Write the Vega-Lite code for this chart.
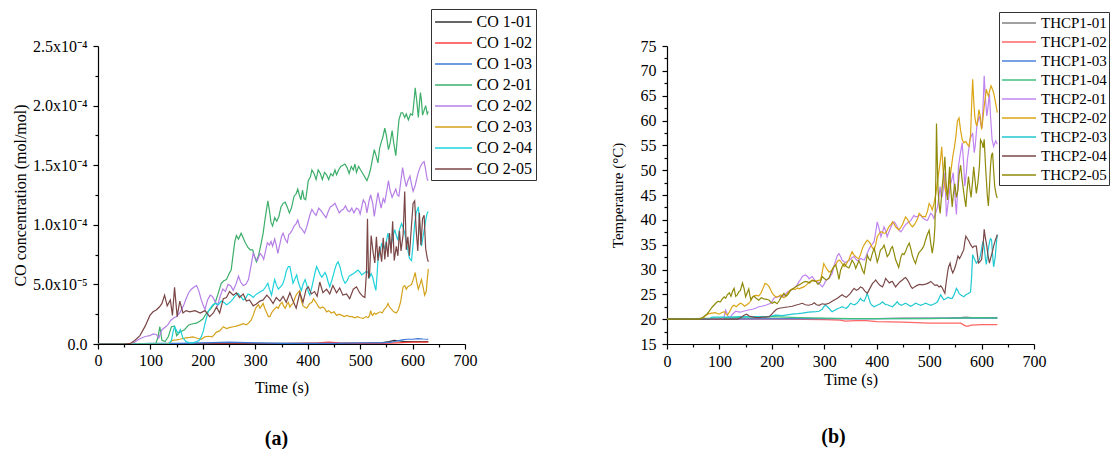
{
"$schema":"https://vega.github.io/schema/vega-lite/v6.json",
"background":"white",
"padding":{"left":12,"top":8,"right":0,"bottom":0},
"config":{"view":{"stroke":null},
"axis":{"domainColor":"black","domainWidth":1.2,"tickColor":"black","tickWidth":1.2,"labelFont":"Liberation Serif","labelFontSize":16,"labelColor":"black","titleFont":"Liberation Serif","titleFontSize":16,"titleFontWeight":"normal","titleColor":"black","grid":false,"labelPadding":4,"labelOverlap":false,"labelFlush":false},
"legend":{"labelFont":"Liberation Serif","labelColor":"black","strokeColor":"#333","fillColor":"white","padding":3,"symbolStrokeWidth":1.5,"symbolOpacity":1}},
"resolve":{"scale":{"color":"independent"},"legend":{"color":"independent"}},
"datasets":{
"co":[
{"s":"CO 1-01","t":0,"v":0},{"s":"CO 1-01","t":100,"v":0},{"s":"CO 1-01","t":200,"v":0.05e-5},{"s":"CO 1-01","t":300,"v":0.05e-5},{"s":"CO 1-01","t":400,"v":0.05e-5},{"s":"CO 1-01","t":500,"v":0.05e-5},{"s":"CO 1-01","t":540,"v":0.1e-5},{"s":"CO 1-01","t":555,"v":0.2e-5},{"s":"CO 1-01","t":565,"v":0.3e-5},{"s":"CO 1-01","t":575,"v":0.25e-5},{"s":"CO 1-01","t":585,"v":0.2e-5},{"s":"CO 1-01","t":600,"v":0.2e-5},{"s":"CO 1-01","t":615,"v":0.2e-5},{"s":"CO 1-01","t":630,"v":0.2e-5},
{"s":"CO 1-02","t":0,"v":0},{"s":"CO 1-02","t":300,"v":0},{"s":"CO 1-02","t":380,"v":0.05e-5},{"s":"CO 1-02","t":420,"v":0.1e-5},{"s":"CO 1-02","t":440,"v":0.15e-5},{"s":"CO 1-02","t":460,"v":0.1e-5},{"s":"CO 1-02","t":500,"v":0.05e-5},{"s":"CO 1-02","t":540,"v":0.05e-5},{"s":"CO 1-02","t":570,"v":0.1e-5},{"s":"CO 1-02","t":600,"v":0.15e-5},{"s":"CO 1-02","t":630,"v":0.15e-5},
{"s":"CO 1-03","t":0,"v":0},{"s":"CO 1-03","t":60,"v":0},{"s":"CO 1-03","t":100,"v":0.05e-5},{"s":"CO 1-03","t":150,"v":0.05e-5},{"s":"CO 1-03","t":200,"v":0.1e-5},{"s":"CO 1-03","t":250,"v":0.15e-5},{"s":"CO 1-03","t":300,"v":0.1e-5},{"s":"CO 1-03","t":350,"v":0.05e-5},{"s":"CO 1-03","t":400,"v":0.05e-5},{"s":"CO 1-03","t":450,"v":0.05e-5},{"s":"CO 1-03","t":500,"v":0.1e-5},{"s":"CO 1-03","t":540,"v":0.1e-5},{"s":"CO 1-03","t":560,"v":0.15e-5},{"s":"CO 1-03","t":570,"v":0.25e-5},{"s":"CO 1-03","t":580,"v":0.35e-5},{"s":"CO 1-03","t":590,"v":0.4e-5},{"s":"CO 1-03","t":600,"v":0.4e-5},{"s":"CO 1-03","t":610,"v":0.45e-5},{"s":"CO 1-03","t":620,"v":0.42e-5},{"s":"CO 1-03","t":630,"v":0.4e-5},
{"s":"CO 2-01","t":0,"v":0},{"s":"CO 2-01","t":110,"v":0},{"s":"CO 2-01","t":114,"v":0.5e-5},{"s":"CO 2-01","t":118,"v":1.45e-5},{"s":"CO 2-01","t":122,"v":0.3e-5},{"s":"CO 2-01","t":128,"v":0.2e-5},{"s":"CO 2-01","t":134,"v":0.6e-5},{"s":"CO 2-01","t":140,"v":1.45e-5},{"s":"CO 2-01","t":146,"v":1.5e-5},{"s":"CO 2-01","t":150,"v":0.7e-5},{"s":"CO 2-01","t":156,"v":1.0e-5},{"s":"CO 2-01","t":165,"v":1.2e-5},{"s":"CO 2-01","t":173,"v":1.6e-5},{"s":"CO 2-01","t":181,"v":1.7e-5},{"s":"CO 2-01","t":188,"v":1.75e-5},{"s":"CO 2-01","t":194,"v":1.9e-5},{"s":"CO 2-01","t":200,"v":2.1e-5},{"s":"CO 2-01","t":207,"v":2.6e-5},{"s":"CO 2-01","t":214,"v":2.9e-5},{"s":"CO 2-01","t":219,"v":3.2e-5},{"s":"CO 2-01","t":223,"v":3.4e-5},{"s":"CO 2-01","t":229,"v":4.2e-5},{"s":"CO 2-01","t":235,"v":5.1e-5},{"s":"CO 2-01","t":240,"v":5.3e-5},{"s":"CO 2-01","t":245,"v":5.4e-5},{"s":"CO 2-01","t":250,"v":5.9e-5},{"s":"CO 2-01","t":254,"v":6.2e-5},{"s":"CO 2-01","t":258,"v":7.6e-5},{"s":"CO 2-01","t":261,"v":8.6e-5},{"s":"CO 2-01","t":264,"v":9.1e-5},{"s":"CO 2-01","t":268,"v":8.8e-5},{"s":"CO 2-01","t":273,"v":9.3e-5},{"s":"CO 2-01","t":277,"v":8.9e-5},{"s":"CO 2-01","t":281,"v":8.5e-5},{"s":"CO 2-01","t":286,"v":8.1e-5},{"s":"CO 2-01","t":290,"v":7.9e-5},{"s":"CO 2-01","t":295,"v":7.9e-5},{"s":"CO 2-01","t":299,"v":7.3e-5},{"s":"CO 2-01","t":302,"v":6.9e-5},{"s":"CO 2-01","t":306,"v":7.4e-5},{"s":"CO 2-01","t":311,"v":8.4e-5},{"s":"CO 2-01","t":315,"v":9.3e-5},{"s":"CO 2-01","t":319,"v":10.6e-5},{"s":"CO 2-01","t":324,"v":12.0e-5},{"s":"CO 2-01","t":327,"v":11.2e-5},{"s":"CO 2-01","t":330,"v":10.2e-5},{"s":"CO 2-01","t":333,"v":9.9e-5},{"s":"CO 2-01","t":337,"v":10.6e-5},{"s":"CO 2-01","t":341,"v":10.3e-5},{"s":"CO 2-01","t":345,"v":10.7e-5},{"s":"CO 2-01","t":349,"v":11.5e-5},{"s":"CO 2-01","t":353,"v":11.8e-5},{"s":"CO 2-01","t":357,"v":11.9e-5},{"s":"CO 2-01","t":361,"v":11.5e-5},{"s":"CO 2-01","t":365,"v":11.0e-5},{"s":"CO 2-01","t":369,"v":11.4e-5},{"s":"CO 2-01","t":374,"v":12.4e-5},{"s":"CO 2-01","t":378,"v":12.6e-5},{"s":"CO 2-01","t":381,"v":13.0e-5},{"s":"CO 2-01","t":384,"v":12.5e-5},{"s":"CO 2-01","t":387,"v":12.1e-5},{"s":"CO 2-01","t":390,"v":12.9e-5},{"s":"CO 2-01","t":393,"v":12.2e-5},{"s":"CO 2-01","t":396,"v":12.1e-5},{"s":"CO 2-01","t":399,"v":13.0e-5},{"s":"CO 2-01","t":401,"v":13.7e-5},{"s":"CO 2-01","t":405,"v":14.0e-5},{"s":"CO 2-01","t":408,"v":14.6e-5},{"s":"CO 2-01","t":412,"v":14.3e-5},{"s":"CO 2-01","t":416,"v":13.8e-5},{"s":"CO 2-01","t":420,"v":14.6e-5},{"s":"CO 2-01","t":424,"v":14.3e-5},{"s":"CO 2-01","t":428,"v":13.8e-5},{"s":"CO 2-01","t":432,"v":14.4e-5},{"s":"CO 2-01","t":436,"v":14.2e-5},{"s":"CO 2-01","t":440,"v":13.8e-5},{"s":"CO 2-01","t":444,"v":14.3e-5},{"s":"CO 2-01","t":448,"v":14.1e-5},{"s":"CO 2-01","t":452,"v":14.6e-5},{"s":"CO 2-01","t":455,"v":14.2e-5},{"s":"CO 2-01","t":459,"v":14.6e-5},{"s":"CO 2-01","t":463,"v":14.9e-5},{"s":"CO 2-01","t":467,"v":15.0e-5},{"s":"CO 2-01","t":471,"v":15.1e-5},{"s":"CO 2-01","t":475,"v":14.8e-5},{"s":"CO 2-01","t":479,"v":14.3e-5},{"s":"CO 2-01","t":483,"v":14.9e-5},{"s":"CO 2-01","t":487,"v":14.6e-5},{"s":"CO 2-01","t":490,"v":15.1e-5},{"s":"CO 2-01","t":493,"v":14.4e-5},{"s":"CO 2-01","t":497,"v":14.9e-5},{"s":"CO 2-01","t":501,"v":14.6e-5},{"s":"CO 2-01","t":505,"v":14.3e-5},{"s":"CO 2-01","t":509,"v":14.0e-5},{"s":"CO 2-01","t":513,"v":13.7e-5},{"s":"CO 2-01","t":517,"v":14.2e-5},{"s":"CO 2-01","t":520,"v":14.7e-5},{"s":"CO 2-01","t":523,"v":15.4e-5},{"s":"CO 2-01","t":527,"v":16.3e-5},{"s":"CO 2-01","t":531,"v":15.7e-5},{"s":"CO 2-01","t":534,"v":15.2e-5},{"s":"CO 2-01","t":537,"v":16.4e-5},{"s":"CO 2-01","t":540,"v":16.9e-5},{"s":"CO 2-01","t":543,"v":17.3e-5},{"s":"CO 2-01","t":547,"v":18.1e-5},{"s":"CO 2-01","t":550,"v":17.5e-5},{"s":"CO 2-01","t":554,"v":16.3e-5},{"s":"CO 2-01","t":557,"v":16.8e-5},{"s":"CO 2-01","t":561,"v":17.9e-5},{"s":"CO 2-01","t":564,"v":16.9e-5},{"s":"CO 2-01","t":568,"v":15.8e-5},{"s":"CO 2-01","t":571,"v":17.3e-5},{"s":"CO 2-01","t":574,"v":18.8e-5},{"s":"CO 2-01","t":578,"v":19.4e-5},{"s":"CO 2-01","t":581,"v":19.4e-5},{"s":"CO 2-01","t":585,"v":19.0e-5},{"s":"CO 2-01","t":588,"v":19.3e-5},{"s":"CO 2-01","t":592,"v":18.8e-5},{"s":"CO 2-01","t":596,"v":19.3e-5},{"s":"CO 2-01","t":600,"v":19.2e-5},{"s":"CO 2-01","t":603,"v":20.5e-5},{"s":"CO 2-01","t":605,"v":21.5e-5},{"s":"CO 2-01","t":608,"v":20.4e-5},{"s":"CO 2-01","t":611,"v":19.0e-5},{"s":"CO 2-01","t":613,"v":20.1e-5},{"s":"CO 2-01","t":615,"v":21.1e-5},{"s":"CO 2-01","t":617,"v":20.4e-5},{"s":"CO 2-01","t":619,"v":19.2e-5},{"s":"CO 2-01","t":622,"v":19.6e-5},{"s":"CO 2-01","t":625,"v":20.0e-5},{"s":"CO 2-01","t":628,"v":19.3e-5},{"s":"CO 2-01","t":630,"v":19.5e-5},
{"s":"CO 2-02","t":0,"v":0},{"s":"CO 2-02","t":62,"v":0},{"s":"CO 2-02","t":70,"v":0.15e-5},{"s":"CO 2-02","t":78,"v":0.4e-5},{"s":"CO 2-02","t":85,"v":0.55e-5},{"s":"CO 2-02","t":92,"v":0.65e-5},{"s":"CO 2-02","t":99,"v":0.7e-5},{"s":"CO 2-02","t":105,"v":0.85e-5},{"s":"CO 2-02","t":111,"v":0.8e-5},{"s":"CO 2-02","t":116,"v":0.5e-5},{"s":"CO 2-02","t":122,"v":1.2e-5},{"s":"CO 2-02","t":128,"v":1.4e-5},{"s":"CO 2-02","t":133,"v":1.6e-5},{"s":"CO 2-02","t":139,"v":2.0e-5},{"s":"CO 2-02","t":145,"v":2.2e-5},{"s":"CO 2-02","t":150,"v":2.3e-5},{"s":"CO 2-02","t":156,"v":2.6e-5},{"s":"CO 2-02","t":163,"v":3.2e-5},{"s":"CO 2-02","t":168,"v":3.8e-5},{"s":"CO 2-02","t":173,"v":4.3e-5},{"s":"CO 2-02","t":178,"v":4.6e-5},{"s":"CO 2-02","t":184,"v":4.8e-5},{"s":"CO 2-02","t":188,"v":4.9e-5},{"s":"CO 2-02","t":192,"v":4.5e-5},{"s":"CO 2-02","t":197,"v":3.7e-5},{"s":"CO 2-02","t":201,"v":3.2e-5},{"s":"CO 2-02","t":204,"v":2.9e-5},{"s":"CO 2-02","t":209,"v":3.7e-5},{"s":"CO 2-02","t":214,"v":4.1e-5},{"s":"CO 2-02","t":218,"v":4.0e-5},{"s":"CO 2-02","t":223,"v":3.6e-5},{"s":"CO 2-02","t":228,"v":3.2e-5},{"s":"CO 2-02","t":233,"v":4.0e-5},{"s":"CO 2-02","t":238,"v":4.6e-5},{"s":"CO 2-02","t":243,"v":4.4e-5},{"s":"CO 2-02","t":248,"v":5.0e-5},{"s":"CO 2-02","t":253,"v":4.9e-5},{"s":"CO 2-02","t":258,"v":4.5e-5},{"s":"CO 2-02","t":263,"v":5.0e-5},{"s":"CO 2-02","t":268,"v":5.7e-5},{"s":"CO 2-02","t":272,"v":5.2e-5},{"s":"CO 2-02","t":277,"v":4.9e-5},{"s":"CO 2-02","t":282,"v":5.0e-5},{"s":"CO 2-02","t":287,"v":5.4e-5},{"s":"CO 2-02","t":292,"v":6.6e-5},{"s":"CO 2-02","t":296,"v":7.6e-5},{"s":"CO 2-02","t":300,"v":7.2e-5},{"s":"CO 2-02","t":304,"v":7.0e-5},{"s":"CO 2-02","t":309,"v":7.6e-5},{"s":"CO 2-02","t":313,"v":7.4e-5},{"s":"CO 2-02","t":316,"v":7.1e-5},{"s":"CO 2-02","t":320,"v":7.9e-5},{"s":"CO 2-02","t":323,"v":8.5e-5},{"s":"CO 2-02","t":327,"v":8.3e-5},{"s":"CO 2-02","t":330,"v":8.6e-5},{"s":"CO 2-02","t":333,"v":8.2e-5},{"s":"CO 2-02","t":337,"v":8.8e-5},{"s":"CO 2-02","t":340,"v":8.3e-5},{"s":"CO 2-02","t":343,"v":7.6e-5},{"s":"CO 2-02","t":347,"v":8.4e-5},{"s":"CO 2-02","t":350,"v":9.0e-5},{"s":"CO 2-02","t":353,"v":9.3e-5},{"s":"CO 2-02","t":357,"v":8.8e-5},{"s":"CO 2-02","t":361,"v":8.5e-5},{"s":"CO 2-02","t":364,"v":9.2e-5},{"s":"CO 2-02","t":367,"v":9.3e-5},{"s":"CO 2-02","t":371,"v":9.6e-5},{"s":"CO 2-02","t":374,"v":9.9e-5},{"s":"CO 2-02","t":378,"v":10.1e-5},{"s":"CO 2-02","t":381,"v":10.4e-5},{"s":"CO 2-02","t":385,"v":9.8e-5},{"s":"CO 2-02","t":388,"v":9.7e-5},{"s":"CO 2-02","t":391,"v":9.5e-5},{"s":"CO 2-02","t":394,"v":9.3e-5},{"s":"CO 2-02","t":398,"v":9.8e-5},{"s":"CO 2-02","t":401,"v":10.3e-5},{"s":"CO 2-02","t":404,"v":10.8e-5},{"s":"CO 2-02","t":408,"v":11.3e-5},{"s":"CO 2-02","t":412,"v":11.0e-5},{"s":"CO 2-02","t":416,"v":10.8e-5},{"s":"CO 2-02","t":421,"v":11.4e-5},{"s":"CO 2-02","t":425,"v":11.2e-5},{"s":"CO 2-02","t":430,"v":10.9e-5},{"s":"CO 2-02","t":435,"v":10.6e-5},{"s":"CO 2-02","t":439,"v":11.1e-5},{"s":"CO 2-02","t":443,"v":11.5e-5},{"s":"CO 2-02","t":447,"v":11.6e-5},{"s":"CO 2-02","t":452,"v":11.8e-5},{"s":"CO 2-02","t":456,"v":11.4e-5},{"s":"CO 2-02","t":460,"v":11.0e-5},{"s":"CO 2-02","t":464,"v":11.2e-5},{"s":"CO 2-02","t":468,"v":11.3e-5},{"s":"CO 2-02","t":472,"v":11.6e-5},{"s":"CO 2-02","t":476,"v":11.2e-5},{"s":"CO 2-02","t":480,"v":11.1e-5},{"s":"CO 2-02","t":484,"v":11.4e-5},{"s":"CO 2-02","t":488,"v":11.0e-5},{"s":"CO 2-02","t":493,"v":11.4e-5},{"s":"CO 2-02","t":497,"v":11.3e-5},{"s":"CO 2-02","t":500,"v":10.9e-5},{"s":"CO 2-02","t":503,"v":11.5e-5},{"s":"CO 2-02","t":506,"v":12.1e-5},{"s":"CO 2-02","t":510,"v":11.8e-5},{"s":"CO 2-02","t":513,"v":11.0e-5},{"s":"CO 2-02","t":517,"v":12.0e-5},{"s":"CO 2-02","t":520,"v":12.5e-5},{"s":"CO 2-02","t":524,"v":11.8e-5},{"s":"CO 2-02","t":527,"v":10.7e-5},{"s":"CO 2-02","t":530,"v":11.6e-5},{"s":"CO 2-02","t":534,"v":12.7e-5},{"s":"CO 2-02","t":537,"v":12.0e-5},{"s":"CO 2-02","t":540,"v":11.4e-5},{"s":"CO 2-02","t":544,"v":12.2e-5},{"s":"CO 2-02","t":547,"v":11.9e-5},{"s":"CO 2-02","t":551,"v":12.9e-5},{"s":"CO 2-02","t":554,"v":13.7e-5},{"s":"CO 2-02","t":557,"v":12.9e-5},{"s":"CO 2-02","t":561,"v":12.3e-5},{"s":"CO 2-02","t":564,"v":12.6e-5},{"s":"CO 2-02","t":568,"v":13.0e-5},{"s":"CO 2-02","t":571,"v":12.5e-5},{"s":"CO 2-02","t":574,"v":12.4e-5},{"s":"CO 2-02","t":578,"v":13.8e-5},{"s":"CO 2-02","t":581,"v":14.8e-5},{"s":"CO 2-02","t":584,"v":14.0e-5},{"s":"CO 2-02","t":588,"v":13.2e-5},{"s":"CO 2-02","t":591,"v":13.7e-5},{"s":"CO 2-02","t":595,"v":14.1e-5},{"s":"CO 2-02","t":598,"v":13.4e-5},{"s":"CO 2-02","t":601,"v":12.8e-5},{"s":"CO 2-02","t":605,"v":13.3e-5},{"s":"CO 2-02","t":608,"v":13.9e-5},{"s":"CO 2-02","t":611,"v":14.4e-5},{"s":"CO 2-02","t":615,"v":14.9e-5},{"s":"CO 2-02","t":619,"v":15.2e-5},{"s":"CO 2-02","t":622,"v":15.3e-5},{"s":"CO 2-02","t":625,"v":14.6e-5},{"s":"CO 2-02","t":628,"v":13.8e-5},{"s":"CO 2-02","t":630,"v":13.7e-5},
{"s":"CO 2-03","t":0,"v":0},{"s":"CO 2-03","t":130,"v":0},{"s":"CO 2-03","t":137,"v":0.1e-5},{"s":"CO 2-03","t":142,"v":0.3e-5},{"s":"CO 2-03","t":150,"v":0.35e-5},{"s":"CO 2-03","t":156,"v":0.4e-5},{"s":"CO 2-03","t":165,"v":0.5e-5},{"s":"CO 2-03","t":175,"v":0.55e-5},{"s":"CO 2-03","t":181,"v":0.6e-5},{"s":"CO 2-03","t":188,"v":0.5e-5},{"s":"CO 2-03","t":197,"v":0.4e-5},{"s":"CO 2-03","t":204,"v":0.6e-5},{"s":"CO 2-03","t":210,"v":0.65e-5},{"s":"CO 2-03","t":218,"v":0.6e-5},{"s":"CO 2-03","t":226,"v":1.0e-5},{"s":"CO 2-03","t":232,"v":1.1e-5},{"s":"CO 2-03","t":239,"v":1.45e-5},{"s":"CO 2-03","t":245,"v":1.3e-5},{"s":"CO 2-03","t":252,"v":1.4e-5},{"s":"CO 2-03","t":258,"v":1.45e-5},{"s":"CO 2-03","t":264,"v":1.5e-5},{"s":"CO 2-03","t":271,"v":1.6e-5},{"s":"CO 2-03","t":277,"v":1.7e-5},{"s":"CO 2-03","t":283,"v":1.6e-5},{"s":"CO 2-03","t":288,"v":1.8e-5},{"s":"CO 2-03","t":292,"v":2.0e-5},{"s":"CO 2-03","t":296,"v":2.4e-5},{"s":"CO 2-03","t":299,"v":2.8e-5},{"s":"CO 2-03","t":302,"v":3.1e-5},{"s":"CO 2-03","t":306,"v":3.3e-5},{"s":"CO 2-03","t":309,"v":3.0e-5},{"s":"CO 2-03","t":312,"v":3.2e-5},{"s":"CO 2-03","t":315,"v":3.4e-5},{"s":"CO 2-03","t":318,"v":3.0e-5},{"s":"CO 2-03","t":322,"v":2.6e-5},{"s":"CO 2-03","t":325,"v":2.3e-5},{"s":"CO 2-03","t":328,"v":2.3e-5},{"s":"CO 2-03","t":331,"v":2.6e-5},{"s":"CO 2-03","t":334,"v":2.8e-5},{"s":"CO 2-03","t":338,"v":3.0e-5},{"s":"CO 2-03","t":341,"v":3.1e-5},{"s":"CO 2-03","t":344,"v":3.0e-5},{"s":"CO 2-03","t":347,"v":3.3e-5},{"s":"CO 2-03","t":351,"v":3.5e-5},{"s":"CO 2-03","t":354,"v":3.2e-5},{"s":"CO 2-03","t":357,"v":3.0e-5},{"s":"CO 2-03","t":360,"v":3.3e-5},{"s":"CO 2-03","t":363,"v":3.5e-5},{"s":"CO 2-03","t":366,"v":3.1e-5},{"s":"CO 2-03","t":369,"v":3.3e-5},{"s":"CO 2-03","t":372,"v":3.4e-5},{"s":"CO 2-03","t":375,"v":3.8e-5},{"s":"CO 2-03","t":378,"v":4.1e-5},{"s":"CO 2-03","t":381,"v":4.3e-5},{"s":"CO 2-03","t":385,"v":4.5e-5},{"s":"CO 2-03","t":388,"v":3.6e-5},{"s":"CO 2-03","t":391,"v":3.2e-5},{"s":"CO 2-03","t":394,"v":3.1e-5},{"s":"CO 2-03","t":398,"v":3.0e-5},{"s":"CO 2-03","t":401,"v":3.2e-5},{"s":"CO 2-03","t":404,"v":3.4e-5},{"s":"CO 2-03","t":408,"v":3.5e-5},{"s":"CO 2-03","t":411,"v":3.8e-5},{"s":"CO 2-03","t":414,"v":3.6e-5},{"s":"CO 2-03","t":417,"v":3.4e-5},{"s":"CO 2-03","t":421,"v":3.1e-5},{"s":"CO 2-03","t":424,"v":3.0e-5},{"s":"CO 2-03","t":428,"v":3.1e-5},{"s":"CO 2-03","t":432,"v":3.0e-5},{"s":"CO 2-03","t":436,"v":2.7e-5},{"s":"CO 2-03","t":440,"v":2.8e-5},{"s":"CO 2-03","t":445,"v":2.6e-5},{"s":"CO 2-03","t":450,"v":2.7e-5},{"s":"CO 2-03","t":455,"v":2.4e-5},{"s":"CO 2-03","t":460,"v":2.5e-5},{"s":"CO 2-03","t":465,"v":2.4e-5},{"s":"CO 2-03","t":470,"v":2.3e-5},{"s":"CO 2-03","t":475,"v":2.4e-5},{"s":"CO 2-03","t":480,"v":2.3e-5},{"s":"CO 2-03","t":485,"v":2.3e-5},{"s":"CO 2-03","t":490,"v":2.2e-5},{"s":"CO 2-03","t":495,"v":2.3e-5},{"s":"CO 2-03","t":500,"v":2.2e-5},{"s":"CO 2-03","t":506,"v":2.15e-5},{"s":"CO 2-03","t":511,"v":2.3e-5},{"s":"CO 2-03","t":515,"v":2.2e-5},{"s":"CO 2-03","t":518,"v":2.4e-5},{"s":"CO 2-03","t":520,"v":2.8e-5},{"s":"CO 2-03","t":522,"v":2.5e-5},{"s":"CO 2-03","t":524,"v":2.4e-5},{"s":"CO 2-03","t":527,"v":2.6e-5},{"s":"CO 2-03","t":530,"v":2.5e-5},{"s":"CO 2-03","t":534,"v":2.6e-5},{"s":"CO 2-03","t":538,"v":2.7e-5},{"s":"CO 2-03","t":542,"v":2.6e-5},{"s":"CO 2-03","t":546,"v":2.9e-5},{"s":"CO 2-03","t":550,"v":3.1e-5},{"s":"CO 2-03","t":553,"v":3.4e-5},{"s":"CO 2-03","t":556,"v":3.1e-5},{"s":"CO 2-03","t":560,"v":2.9e-5},{"s":"CO 2-03","t":564,"v":2.7e-5},{"s":"CO 2-03","t":569,"v":2.6e-5},{"s":"CO 2-03","t":573,"v":2.9e-5},{"s":"CO 2-03","t":577,"v":3.5e-5},{"s":"CO 2-03","t":580,"v":4.3e-5},{"s":"CO 2-03","t":582,"v":4.8e-5},{"s":"CO 2-03","t":585,"v":4.9e-5},{"s":"CO 2-03","t":588,"v":4.6e-5},{"s":"CO 2-03","t":591,"v":4.8e-5},{"s":"CO 2-03","t":595,"v":4.9e-5},{"s":"CO 2-03","t":598,"v":5.0e-5},{"s":"CO 2-03","t":602,"v":5.5e-5},{"s":"CO 2-03","t":605,"v":6.0e-5},{"s":"CO 2-03","t":608,"v":5.2e-5},{"s":"CO 2-03","t":611,"v":4.6e-5},{"s":"CO 2-03","t":614,"v":5.0e-5},{"s":"CO 2-03","t":617,"v":5.4e-5},{"s":"CO 2-03","t":620,"v":4.8e-5},{"s":"CO 2-03","t":623,"v":4.1e-5},{"s":"CO 2-03","t":626,"v":4.4e-5},{"s":"CO 2-03","t":628,"v":5.4e-5},{"s":"CO 2-03","t":630,"v":6.3e-5},
{"s":"CO 2-04","t":0,"v":0},{"s":"CO 2-04","t":135,"v":0},{"s":"CO 2-04","t":140,"v":0.3e-5},{"s":"CO 2-04","t":143,"v":1.0e-5},{"s":"CO 2-04","t":146,"v":1.45e-5},{"s":"CO 2-04","t":150,"v":1.1e-5},{"s":"CO 2-04","t":153,"v":0.9e-5},{"s":"CO 2-04","t":157,"v":1.2e-5},{"s":"CO 2-04","t":162,"v":0.5e-5},{"s":"CO 2-04","t":168,"v":0.2e-5},{"s":"CO 2-04","t":175,"v":0.1e-5},{"s":"CO 2-04","t":181,"v":0.1e-5},{"s":"CO 2-04","t":188,"v":0.2e-5},{"s":"CO 2-04","t":193,"v":0.3e-5},{"s":"CO 2-04","t":197,"v":0.6e-5},{"s":"CO 2-04","t":201,"v":1.1e-5},{"s":"CO 2-04","t":204,"v":1.7e-5},{"s":"CO 2-04","t":207,"v":2.2e-5},{"s":"CO 2-04","t":210,"v":2.7e-5},{"s":"CO 2-04","t":214,"v":3.0e-5},{"s":"CO 2-04","t":219,"v":3.3e-5},{"s":"CO 2-04","t":224,"v":3.4e-5},{"s":"CO 2-04","t":230,"v":3.3e-5},{"s":"CO 2-04","t":235,"v":3.6e-5},{"s":"CO 2-04","t":240,"v":3.5e-5},{"s":"CO 2-04","t":245,"v":3.3e-5},{"s":"CO 2-04","t":249,"v":3.4e-5},{"s":"CO 2-04","t":254,"v":3.6e-5},{"s":"CO 2-04","t":258,"v":3.8e-5},{"s":"CO 2-04","t":261,"v":4.0e-5},{"s":"CO 2-04","t":267,"v":4.25e-5},{"s":"CO 2-04","t":272,"v":4.0e-5},{"s":"CO 2-04","t":277,"v":3.7e-5},{"s":"CO 2-04","t":281,"v":3.8e-5},{"s":"CO 2-04","t":286,"v":4.2e-5},{"s":"CO 2-04","t":291,"v":4.1e-5},{"s":"CO 2-04","t":296,"v":3.9e-5},{"s":"CO 2-04","t":300,"v":4.1e-5},{"s":"CO 2-04","t":305,"v":4.25e-5},{"s":"CO 2-04","t":310,"v":4.4e-5},{"s":"CO 2-04","t":315,"v":4.5e-5},{"s":"CO 2-04","t":320,"v":4.8e-5},{"s":"CO 2-04","t":324,"v":5.1e-5},{"s":"CO 2-04","t":327,"v":4.6e-5},{"s":"CO 2-04","t":331,"v":4.1e-5},{"s":"CO 2-04","t":334,"v":4.8e-5},{"s":"CO 2-04","t":337,"v":5.4e-5},{"s":"CO 2-04","t":340,"v":5.0e-5},{"s":"CO 2-04","t":344,"v":4.6e-5},{"s":"CO 2-04","t":348,"v":4.8e-5},{"s":"CO 2-04","t":352,"v":5.0e-5},{"s":"CO 2-04","t":356,"v":5.5e-5},{"s":"CO 2-04","t":359,"v":6.1e-5},{"s":"CO 2-04","t":363,"v":6.5e-5},{"s":"CO 2-04","t":366,"v":6.5e-5},{"s":"CO 2-04","t":369,"v":5.8e-5},{"s":"CO 2-04","t":372,"v":5.1e-5},{"s":"CO 2-04","t":375,"v":5.4e-5},{"s":"CO 2-04","t":379,"v":5.8e-5},{"s":"CO 2-04","t":382,"v":5.2e-5},{"s":"CO 2-04","t":385,"v":4.8e-5},{"s":"CO 2-04","t":388,"v":4.5e-5},{"s":"CO 2-04","t":391,"v":5.0e-5},{"s":"CO 2-04","t":395,"v":5.4e-5},{"s":"CO 2-04","t":398,"v":5.0e-5},{"s":"CO 2-04","t":401,"v":4.4e-5},{"s":"CO 2-04","t":404,"v":4.1e-5},{"s":"CO 2-04","t":408,"v":4.8e-5},{"s":"CO 2-04","t":411,"v":5.4e-5},{"s":"CO 2-04","t":414,"v":6.0e-5},{"s":"CO 2-04","t":417,"v":6.5e-5},{"s":"CO 2-04","t":420,"v":6.2e-5},{"s":"CO 2-04","t":424,"v":5.8e-5},{"s":"CO 2-04","t":427,"v":5.6e-5},{"s":"CO 2-04","t":430,"v":5.8e-5},{"s":"CO 2-04","t":433,"v":6.0e-5},{"s":"CO 2-04","t":436,"v":5.7e-5},{"s":"CO 2-04","t":439,"v":5.2e-5},{"s":"CO 2-04","t":442,"v":4.8e-5},{"s":"CO 2-04","t":445,"v":5.2e-5},{"s":"CO 2-04","t":449,"v":5.8e-5},{"s":"CO 2-04","t":452,"v":6.3e-5},{"s":"CO 2-04","t":455,"v":6.7e-5},{"s":"CO 2-04","t":458,"v":6.9e-5},{"s":"CO 2-04","t":462,"v":6.4e-5},{"s":"CO 2-04","t":465,"v":5.8e-5},{"s":"CO 2-04","t":468,"v":5.4e-5},{"s":"CO 2-04","t":471,"v":5.1e-5},{"s":"CO 2-04","t":475,"v":5.3e-5},{"s":"CO 2-04","t":479,"v":5.7e-5},{"s":"CO 2-04","t":483,"v":5.8e-5},{"s":"CO 2-04","t":487,"v":5.9e-5},{"s":"CO 2-04","t":490,"v":6.0e-5},{"s":"CO 2-04","t":493,"v":6.1e-5},{"s":"CO 2-04","t":496,"v":6.2e-5},{"s":"CO 2-04","t":500,"v":6.0e-5},{"s":"CO 2-04","t":503,"v":5.8e-5},{"s":"CO 2-04","t":506,"v":5.9e-5},{"s":"CO 2-04","t":509,"v":6.0e-5},{"s":"CO 2-04","t":512,"v":6.1e-5},{"s":"CO 2-04","t":515,"v":6.0e-5},{"s":"CO 2-04","t":518,"v":5.6e-5},{"s":"CO 2-04","t":521,"v":5.9e-5},{"s":"CO 2-04","t":524,"v":5.6e-5},{"s":"CO 2-04","t":527,"v":5.0e-5},{"s":"CO 2-04","t":530,"v":4.5e-5},{"s":"CO 2-04","t":532,"v":5.6e-5},{"s":"CO 2-04","t":534,"v":7.0e-5},{"s":"CO 2-04","t":537,"v":7.6e-5},{"s":"CO 2-04","t":541,"v":8.4e-5},{"s":"CO 2-04","t":544,"v":8.3e-5},{"s":"CO 2-04","t":547,"v":8.0e-5},{"s":"CO 2-04","t":550,"v":8.6e-5},{"s":"CO 2-04","t":553,"v":9.3e-5},{"s":"CO 2-04","t":556,"v":8.6e-5},{"s":"CO 2-04","t":559,"v":8.2e-5},{"s":"CO 2-04","t":562,"v":8.9e-5},{"s":"CO 2-04","t":566,"v":9.6e-5},{"s":"CO 2-04","t":569,"v":9.1e-5},{"s":"CO 2-04","t":572,"v":8.7e-5},{"s":"CO 2-04","t":575,"v":9.6e-5},{"s":"CO 2-04","t":579,"v":10.1e-5},{"s":"CO 2-04","t":582,"v":9.8e-5},{"s":"CO 2-04","t":585,"v":9.3e-5},{"s":"CO 2-04","t":588,"v":8.6e-5},{"s":"CO 2-04","t":591,"v":7.9e-5},{"s":"CO 2-04","t":594,"v":7.2e-5},{"s":"CO 2-04","t":598,"v":7.0e-5},{"s":"CO 2-04","t":601,"v":8.4e-5},{"s":"CO 2-04","t":604,"v":10.1e-5},{"s":"CO 2-04","t":607,"v":11.0e-5},{"s":"CO 2-04","t":611,"v":11.5e-5},{"s":"CO 2-04","t":614,"v":9.8e-5},{"s":"CO 2-04","t":617,"v":8.2e-5},{"s":"CO 2-04","t":620,"v":9.0e-5},{"s":"CO 2-04","t":623,"v":9.8e-5},{"s":"CO 2-04","t":626,"v":10.6e-5},{"s":"CO 2-04","t":628,"v":11.0e-5},{"s":"CO 2-04","t":630,"v":11.1e-5},
{"s":"CO 2-05","t":0,"v":0},{"s":"CO 2-05","t":50,"v":0},{"s":"CO 2-05","t":62,"v":0.05e-5},{"s":"CO 2-05","t":70,"v":0.3e-5},{"s":"CO 2-05","t":80,"v":0.7e-5},{"s":"CO 2-05","t":90,"v":1.5e-5},{"s":"CO 2-05","t":99,"v":2.4e-5},{"s":"CO 2-05","t":105,"v":2.7e-5},{"s":"CO 2-05","t":111,"v":2.85e-5},{"s":"CO 2-05","t":117,"v":3.1e-5},{"s":"CO 2-05","t":122,"v":3.4e-5},{"s":"CO 2-05","t":127,"v":4.1e-5},{"s":"CO 2-05","t":132,"v":3.2e-5},{"s":"CO 2-05","t":138,"v":3.7e-5},{"s":"CO 2-05","t":142,"v":2.4e-5},{"s":"CO 2-05","t":146,"v":4.75e-5},{"s":"CO 2-05","t":151,"v":2.3e-5},{"s":"CO 2-05","t":156,"v":3.6e-5},{"s":"CO 2-05","t":162,"v":2.6e-5},{"s":"CO 2-05","t":168,"v":2.8e-5},{"s":"CO 2-05","t":175,"v":2.7e-5},{"s":"CO 2-05","t":185,"v":2.8e-5},{"s":"CO 2-05","t":195,"v":2.6e-5},{"s":"CO 2-05","t":204,"v":2.8e-5},{"s":"CO 2-05","t":213,"v":2.3e-5},{"s":"CO 2-05","t":220,"v":2.6e-5},{"s":"CO 2-05","t":226,"v":3.1e-5},{"s":"CO 2-05","t":232,"v":2.6e-5},{"s":"CO 2-05","t":239,"v":3.8e-5},{"s":"CO 2-05","t":245,"v":3.9e-5},{"s":"CO 2-05","t":251,"v":4.4e-5},{"s":"CO 2-05","t":258,"v":4.1e-5},{"s":"CO 2-05","t":264,"v":4.3e-5},{"s":"CO 2-05","t":270,"v":3.9e-5},{"s":"CO 2-05","t":277,"v":4.2e-5},{"s":"CO 2-05","t":283,"v":3.6e-5},{"s":"CO 2-05","t":289,"v":3.7e-5},{"s":"CO 2-05","t":296,"v":3.2e-5},{"s":"CO 2-05","t":302,"v":3.35e-5},{"s":"CO 2-05","t":309,"v":3.6e-5},{"s":"CO 2-05","t":315,"v":3.7e-5},{"s":"CO 2-05","t":322,"v":4.1e-5},{"s":"CO 2-05","t":328,"v":3.8e-5},{"s":"CO 2-05","t":334,"v":3.4e-5},{"s":"CO 2-05","t":340,"v":3.9e-5},{"s":"CO 2-05","t":347,"v":3.6e-5},{"s":"CO 2-05","t":353,"v":4.0e-5},{"s":"CO 2-05","t":359,"v":3.5e-5},{"s":"CO 2-05","t":366,"v":4.3e-5},{"s":"CO 2-05","t":372,"v":3.6e-5},{"s":"CO 2-05","t":378,"v":3.0e-5},{"s":"CO 2-05","t":385,"v":4.3e-5},{"s":"CO 2-05","t":391,"v":3.5e-5},{"s":"CO 2-05","t":397,"v":4.6e-5},{"s":"CO 2-05","t":401,"v":4.8e-5},{"s":"CO 2-05","t":407,"v":4.2e-5},{"s":"CO 2-05","t":413,"v":4.4e-5},{"s":"CO 2-05","t":418,"v":4.0e-5},{"s":"CO 2-05","t":423,"v":5.2e-5},{"s":"CO 2-05","t":429,"v":4.3e-5},{"s":"CO 2-05","t":436,"v":4.6e-5},{"s":"CO 2-05","t":442,"v":4.2e-5},{"s":"CO 2-05","t":448,"v":4.9e-5},{"s":"CO 2-05","t":455,"v":4.3e-5},{"s":"CO 2-05","t":461,"v":4.7e-5},{"s":"CO 2-05","t":467,"v":4.1e-5},{"s":"CO 2-05","t":474,"v":4.2e-5},{"s":"CO 2-05","t":480,"v":3.8e-5},{"s":"CO 2-05","t":487,"v":4.6e-5},{"s":"CO 2-05","t":493,"v":4.8e-5},{"s":"CO 2-05","t":499,"v":4.3e-5},{"s":"CO 2-05","t":505,"v":4.0e-5},{"s":"CO 2-05","t":509,"v":3.9e-5},{"s":"CO 2-05","t":512,"v":6.0e-5},{"s":"CO 2-05","t":514,"v":10.5e-5},{"s":"CO 2-05","t":516,"v":5.5e-5},{"s":"CO 2-05","t":518,"v":5.8e-5},{"s":"CO 2-05","t":521,"v":9.1e-5},{"s":"CO 2-05","t":525,"v":7.6e-5},{"s":"CO 2-05","t":528,"v":6.8e-5},{"s":"CO 2-05","t":531,"v":9.0e-5},{"s":"CO 2-05","t":534,"v":7.0e-5},{"s":"CO 2-05","t":537,"v":8.2e-5},{"s":"CO 2-05","t":541,"v":6.9e-5},{"s":"CO 2-05","t":544,"v":8.9e-5},{"s":"CO 2-05","t":547,"v":7.1e-5},{"s":"CO 2-05","t":550,"v":8.6e-5},{"s":"CO 2-05","t":553,"v":7.3e-5},{"s":"CO 2-05","t":556,"v":9.3e-5},{"s":"CO 2-05","t":559,"v":7.6e-5},{"s":"CO 2-05","t":562,"v":10.3e-5},{"s":"CO 2-05","t":565,"v":7.0e-5},{"s":"CO 2-05","t":569,"v":8.2e-5},{"s":"CO 2-05","t":572,"v":7.4e-5},{"s":"CO 2-05","t":575,"v":9.5e-5},{"s":"CO 2-05","t":578,"v":7.8e-5},{"s":"CO 2-05","t":582,"v":9.2e-5},{"s":"CO 2-05","t":585,"v":12.8e-5},{"s":"CO 2-05","t":588,"v":7.9e-5},{"s":"CO 2-05","t":591,"v":9.0e-5},{"s":"CO 2-05","t":594,"v":7.4e-5},{"s":"CO 2-05","t":598,"v":10.0e-5},{"s":"CO 2-05","t":601,"v":11.8e-5},{"s":"CO 2-05","t":604,"v":12.0e-5},{"s":"CO 2-05","t":607,"v":9.5e-5},{"s":"CO 2-05","t":610,"v":7.8e-5},{"s":"CO 2-05","t":613,"v":11.0e-5},{"s":"CO 2-05","t":616,"v":8.3e-5},{"s":"CO 2-05","t":619,"v":10.5e-5},{"s":"CO 2-05","t":622,"v":10.8e-5},{"s":"CO 2-05","t":625,"v":8.0e-5},{"s":"CO 2-05","t":628,"v":7.2e-5},{"s":"CO 2-05","t":630,"v":6.9e-5}
],
"temp":[
{"s":"THCP1-01","t":0,"T":20},{"s":"THCP1-01","t":100,"T":20.05},{"s":"THCP1-01","t":200,"T":20.1},{"s":"THCP1-01","t":300,"T":20.1},{"s":"THCP1-01","t":400,"T":20.1},{"s":"THCP1-01","t":450,"T":20.2},{"s":"THCP1-01","t":500,"T":20.2},{"s":"THCP1-01","t":540,"T":20.2},{"s":"THCP1-01","t":560,"T":20.3},{"s":"THCP1-01","t":570,"T":20.4},{"s":"THCP1-01","t":580,"T":20.3},{"s":"THCP1-01","t":600,"T":20.3},{"s":"THCP1-01","t":630,"T":20.3},
{"s":"THCP1-02","t":0,"T":20},{"s":"THCP1-02","t":200,"T":20},{"s":"THCP1-02","t":260,"T":19.95},{"s":"THCP1-02","t":300,"T":19.9},{"s":"THCP1-02","t":330,"T":19.8},{"s":"THCP1-02","t":340,"T":19.6},{"s":"THCP1-02","t":360,"T":19.7},{"s":"THCP1-02","t":380,"T":19.7},{"s":"THCP1-02","t":400,"T":19.5},{"s":"THCP1-02","t":450,"T":19.4},{"s":"THCP1-02","t":500,"T":19.2},{"s":"THCP1-02","t":540,"T":19.2},{"s":"THCP1-02","t":560,"T":19.2},{"s":"THCP1-02","t":565,"T":18.9},{"s":"THCP1-02","t":570,"T":18.6},{"s":"THCP1-02","t":575,"T":18.6},{"s":"THCP1-02","t":580,"T":18.8},{"s":"THCP1-02","t":600,"T":18.9},{"s":"THCP1-02","t":630,"T":18.9},
{"s":"THCP1-03","t":0,"T":20},{"s":"THCP1-03","t":200,"T":20.05},{"s":"THCP1-03","t":300,"T":20.1},{"s":"THCP1-03","t":400,"T":20.1},{"s":"THCP1-03","t":500,"T":20.15},{"s":"THCP1-03","t":560,"T":20.2},{"s":"THCP1-03","t":600,"T":20.2},{"s":"THCP1-03","t":630,"T":20.2},
{"s":"THCP1-04","t":0,"T":20},{"s":"THCP1-04","t":100,"T":20.2},{"s":"THCP1-04","t":150,"T":20.4},{"s":"THCP1-04","t":200,"T":20.5},{"s":"THCP1-04","t":250,"T":20.3},{"s":"THCP1-04","t":300,"T":20.2},{"s":"THCP1-04","t":350,"T":20.1},{"s":"THCP1-04","t":400,"T":20.1},{"s":"THCP1-04","t":500,"T":20.1},{"s":"THCP1-04","t":550,"T":20.2},{"s":"THCP1-04","t":600,"T":20.3},{"s":"THCP1-04","t":630,"T":20.2},
{"s":"THCP2-01","t":0,"T":20},{"s":"THCP2-01","t":105,"T":20},{"s":"THCP2-01","t":109,"T":20.5},{"s":"THCP2-01","t":112,"T":21.8},{"s":"THCP2-01","t":114,"T":21.3},{"s":"THCP2-01","t":116,"T":20.6},{"s":"THCP2-01","t":119,"T":20.4},{"s":"THCP2-01","t":122,"T":20.6},{"s":"THCP2-01","t":125,"T":21.0},{"s":"THCP2-01","t":128,"T":21.3},{"s":"THCP2-01","t":131,"T":21.6},{"s":"THCP2-01","t":134,"T":21.5},{"s":"THCP2-01","t":140,"T":21.4},{"s":"THCP2-01","t":146,"T":21.6},{"s":"THCP2-01","t":153,"T":21.8},{"s":"THCP2-01","t":158,"T":21.9},{"s":"THCP2-01","t":163,"T":22.0},{"s":"THCP2-01","t":169,"T":22.2},{"s":"THCP2-01","t":175,"T":22.5},{"s":"THCP2-01","t":181,"T":22.6},{"s":"THCP2-01","t":188,"T":22.8},{"s":"THCP2-01","t":193,"T":23.0},{"s":"THCP2-01","t":198,"T":23.2},{"s":"THCP2-01","t":201,"T":23.7},{"s":"THCP2-01","t":204,"T":24.2},{"s":"THCP2-01","t":207,"T":24.4},{"s":"THCP2-01","t":210,"T":24.5},{"s":"THCP2-01","t":215,"T":24.6},{"s":"THCP2-01","t":220,"T":24.5},{"s":"THCP2-01","t":225,"T":24.9},{"s":"THCP2-01","t":230,"T":25.5},{"s":"THCP2-01","t":236,"T":25.8},{"s":"THCP2-01","t":240,"T":26.1},{"s":"THCP2-01","t":245,"T":26.5},{"s":"THCP2-01","t":249,"T":27.0},{"s":"THCP2-01","t":252,"T":27.6},{"s":"THCP2-01","t":255,"T":28.0},{"s":"THCP2-01","t":258,"T":28.6},{"s":"THCP2-01","t":261,"T":28.8},{"s":"THCP2-01","t":264,"T":28.9},{"s":"THCP2-01","t":268,"T":28.6},{"s":"THCP2-01","t":271,"T":28.1},{"s":"THCP2-01","t":274,"T":28.4},{"s":"THCP2-01","t":277,"T":28.6},{"s":"THCP2-01","t":280,"T":28.1},{"s":"THCP2-01","t":284,"T":27.6},{"s":"THCP2-01","t":288,"T":27.5},{"s":"THCP2-01","t":292,"T":27.0},{"s":"THCP2-01","t":296,"T":26.5},{"s":"THCP2-01","t":299,"T":26.9},{"s":"THCP2-01","t":302,"T":27.6},{"s":"THCP2-01","t":306,"T":28.0},{"s":"THCP2-01","t":309,"T":28.2},{"s":"THCP2-01","t":312,"T":28.7},{"s":"THCP2-01","t":315,"T":29.2},{"s":"THCP2-01","t":318,"T":30.5},{"s":"THCP2-01","t":322,"T":31.9},{"s":"THCP2-01","t":325,"T":32.8},{"s":"THCP2-01","t":328,"T":33.2},{"s":"THCP2-01","t":331,"T":32.6},{"s":"THCP2-01","t":334,"T":31.9},{"s":"THCP2-01","t":337,"T":31.6},{"s":"THCP2-01","t":341,"T":31.4},{"s":"THCP2-01","t":344,"T":31.6},{"s":"THCP2-01","t":347,"T":31.8},{"s":"THCP2-01","t":350,"T":32.1},{"s":"THCP2-01","t":353,"T":32.4},{"s":"THCP2-01","t":357,"T":32.6},{"s":"THCP2-01","t":360,"T":32.1},{"s":"THCP2-01","t":363,"T":31.8},{"s":"THCP2-01","t":366,"T":31.9},{"s":"THCP2-01","t":370,"T":32.2},{"s":"THCP2-01","t":373,"T":32.0},{"s":"THCP2-01","t":376,"T":31.9},{"s":"THCP2-01","t":379,"T":32.5},{"s":"THCP2-01","t":382,"T":33.3},{"s":"THCP2-01","t":385,"T":34.0},{"s":"THCP2-01","t":388,"T":34.6},{"s":"THCP2-01","t":391,"T":35.0},{"s":"THCP2-01","t":395,"T":35.6},{"s":"THCP2-01","t":398,"T":37.5},{"s":"THCP2-01","t":401,"T":39.6},{"s":"THCP2-01","t":404,"T":38.5},{"s":"THCP2-01","t":408,"T":36.6},{"s":"THCP2-01","t":411,"T":37.5},{"s":"THCP2-01","t":414,"T":38.6},{"s":"THCP2-01","t":417,"T":37.8},{"s":"THCP2-01","t":420,"T":36.6},{"s":"THCP2-01","t":423,"T":37.5},{"s":"THCP2-01","t":427,"T":38.5},{"s":"THCP2-01","t":430,"T":39.2},{"s":"THCP2-01","t":433,"T":39.6},{"s":"THCP2-01","t":436,"T":39.2},{"s":"THCP2-01","t":439,"T":38.6},{"s":"THCP2-01","t":442,"T":38.0},{"s":"THCP2-01","t":446,"T":37.6},{"s":"THCP2-01","t":449,"T":38.0},{"s":"THCP2-01","t":452,"T":38.6},{"s":"THCP2-01","t":455,"T":39.0},{"s":"THCP2-01","t":458,"T":39.3},{"s":"THCP2-01","t":462,"T":39.6},{"s":"THCP2-01","t":465,"T":39.9},{"s":"THCP2-01","t":468,"T":40.4},{"s":"THCP2-01","t":471,"T":40.9},{"s":"THCP2-01","t":474,"T":40.6},{"s":"THCP2-01","t":478,"T":40.7},{"s":"THCP2-01","t":481,"T":40.9},{"s":"THCP2-01","t":484,"T":40.9},{"s":"THCP2-01","t":487,"T":40.5},{"s":"THCP2-01","t":490,"T":40.2},{"s":"THCP2-01","t":493,"T":40.0},{"s":"THCP2-01","t":497,"T":39.9},{"s":"THCP2-01","t":500,"T":40.6},{"s":"THCP2-01","t":503,"T":41.3},{"s":"THCP2-01","t":506,"T":41.0},{"s":"THCP2-01","t":509,"T":40.3},{"s":"THCP2-01","t":512,"T":41.2},{"s":"THCP2-01","t":516,"T":42.6},{"s":"THCP2-01","t":519,"T":45.0},{"s":"THCP2-01","t":521,"T":46.7},{"s":"THCP2-01","t":523,"T":44.8},{"s":"THCP2-01","t":525,"T":44.7},{"s":"THCP2-01","t":528,"T":47.0},{"s":"THCP2-01","t":530,"T":49.5},{"s":"THCP2-01","t":533,"T":40.7},{"s":"THCP2-01","t":537,"T":44.0},{"s":"THCP2-01","t":540,"T":46.8},{"s":"THCP2-01","t":543,"T":48.0},{"s":"THCP2-01","t":546,"T":49.5},{"s":"THCP2-01","t":549,"T":45.0},{"s":"THCP2-01","t":552,"T":41.1},{"s":"THCP2-01","t":554,"T":45.5},{"s":"THCP2-01","t":556,"T":50.8},{"s":"THCP2-01","t":559,"T":53.0},{"s":"THCP2-01","t":563,"T":55.5},{"s":"THCP2-01","t":566,"T":51.0},{"s":"THCP2-01","t":568,"T":46.8},{"s":"THCP2-01","t":571,"T":49.5},{"s":"THCP2-01","t":573,"T":52.2},{"s":"THCP2-01","t":576,"T":54.5},{"s":"THCP2-01","t":578,"T":56.2},{"s":"THCP2-01","t":581,"T":57.0},{"s":"THCP2-01","t":583,"T":57.5},{"s":"THCP2-01","t":586,"T":53.5},{"s":"THCP2-01","t":588,"T":55.0},{"s":"THCP2-01","t":591,"T":58.9},{"s":"THCP2-01","t":593,"T":59.8},{"s":"THCP2-01","t":596,"T":60.9},{"s":"THCP2-01","t":599,"T":59.0},{"s":"THCP2-01","t":601,"T":58.5},{"s":"THCP2-01","t":603,"T":63.5},{"s":"THCP2-01","t":605,"T":69.0},{"s":"THCP2-01","t":607,"T":65.0},{"s":"THCP2-01","t":610,"T":60.9},{"s":"THCP2-01","t":612,"T":62.5},{"s":"THCP2-01","t":615,"T":65.3},{"s":"THCP2-01","t":617,"T":61.0},{"s":"THCP2-01","t":620,"T":56.2},{"s":"THCP2-01","t":623,"T":54.8},{"s":"THCP2-01","t":627,"T":55.9},{"s":"THCP2-01","t":630,"T":55.2},
{"s":"THCP2-02","t":0,"T":20},{"s":"THCP2-02","t":65,"T":20},{"s":"THCP2-02","t":70,"T":20.3},{"s":"THCP2-02","t":74,"T":20.8},{"s":"THCP2-02","t":80,"T":21.1},{"s":"THCP2-02","t":86,"T":21.2},{"s":"THCP2-02","t":92,"T":21.3},{"s":"THCP2-02","t":99,"T":21.0},{"s":"THCP2-02","t":104,"T":21.3},{"s":"THCP2-02","t":109,"T":21.5},{"s":"THCP2-02","t":112,"T":21.1},{"s":"THCP2-02","t":115,"T":20.8},{"s":"THCP2-02","t":119,"T":21.4},{"s":"THCP2-02","t":122,"T":22.1},{"s":"THCP2-02","t":125,"T":22.6},{"s":"THCP2-02","t":128,"T":22.8},{"s":"THCP2-02","t":132,"T":22.5},{"s":"THCP2-02","t":136,"T":22.9},{"s":"THCP2-02","t":140,"T":23.2},{"s":"THCP2-02","t":144,"T":23.0},{"s":"THCP2-02","t":148,"T":22.6},{"s":"THCP2-02","t":152,"T":22.9},{"s":"THCP2-02","t":156,"T":23.2},{"s":"THCP2-02","t":160,"T":23.7},{"s":"THCP2-02","t":163,"T":24.5},{"s":"THCP2-02","t":166,"T":24.7},{"s":"THCP2-02","t":170,"T":24.8},{"s":"THCP2-02","t":175,"T":24.7},{"s":"THCP2-02","t":179,"T":25.2},{"s":"THCP2-02","t":183,"T":26.2},{"s":"THCP2-02","t":187,"T":27.2},{"s":"THCP2-02","t":191,"T":27.0},{"s":"THCP2-02","t":195,"T":26.5},{"s":"THCP2-02","t":198,"T":25.8},{"s":"THCP2-02","t":201,"T":25.2},{"s":"THCP2-02","t":205,"T":24.7},{"s":"THCP2-02","t":209,"T":24.4},{"s":"THCP2-02","t":213,"T":24.6},{"s":"THCP2-02","t":217,"T":24.9},{"s":"THCP2-02","t":220,"T":24.5},{"s":"THCP2-02","t":223,"T":24.3},{"s":"THCP2-02","t":227,"T":24.7},{"s":"THCP2-02","t":230,"T":25.2},{"s":"THCP2-02","t":233,"T":25.6},{"s":"THCP2-02","t":236,"T":25.9},{"s":"THCP2-02","t":240,"T":26.1},{"s":"THCP2-02","t":245,"T":26.0},{"s":"THCP2-02","t":249,"T":26.3},{"s":"THCP2-02","t":252,"T":26.1},{"s":"THCP2-02","t":256,"T":26.3},{"s":"THCP2-02","t":261,"T":26.5},{"s":"THCP2-02","t":265,"T":26.8},{"s":"THCP2-02","t":269,"T":27.2},{"s":"THCP2-02","t":273,"T":27.6},{"s":"THCP2-02","t":277,"T":27.9},{"s":"THCP2-02","t":281,"T":27.6},{"s":"THCP2-02","t":285,"T":27.7},{"s":"THCP2-02","t":289,"T":27.8},{"s":"THCP2-02","t":293,"T":27.9},{"s":"THCP2-02","t":296,"T":29.4},{"s":"THCP2-02","t":299,"T":31.2},{"s":"THCP2-02","t":302,"T":30.6},{"s":"THCP2-02","t":306,"T":29.9},{"s":"THCP2-02","t":309,"T":29.5},{"s":"THCP2-02","t":312,"T":29.6},{"s":"THCP2-02","t":315,"T":30.0},{"s":"THCP2-02","t":318,"T":30.6},{"s":"THCP2-02","t":322,"T":31.0},{"s":"THCP2-02","t":325,"T":31.6},{"s":"THCP2-02","t":328,"T":31.9},{"s":"THCP2-02","t":331,"T":31.7},{"s":"THCP2-02","t":335,"T":31.0},{"s":"THCP2-02","t":338,"T":30.6},{"s":"THCP2-02","t":341,"T":30.9},{"s":"THCP2-02","t":344,"T":31.5},{"s":"THCP2-02","t":347,"T":32.0},{"s":"THCP2-02","t":350,"T":32.8},{"s":"THCP2-02","t":353,"T":33.6},{"s":"THCP2-02","t":356,"T":33.0},{"s":"THCP2-02","t":360,"T":32.6},{"s":"THCP2-02","t":363,"T":32.3},{"s":"THCP2-02","t":366,"T":32.2},{"s":"THCP2-02","t":369,"T":33.0},{"s":"THCP2-02","t":372,"T":34.0},{"s":"THCP2-02","t":374,"T":34.6},{"s":"THCP2-02","t":378,"T":35.3},{"s":"THCP2-02","t":382,"T":35.9},{"s":"THCP2-02","t":385,"T":35.6},{"s":"THCP2-02","t":388,"T":35.2},{"s":"THCP2-02","t":391,"T":34.5},{"s":"THCP2-02","t":395,"T":33.9},{"s":"THCP2-02","t":398,"T":35.0},{"s":"THCP2-02","t":401,"T":36.6},{"s":"THCP2-02","t":404,"T":37.1},{"s":"THCP2-02","t":408,"T":37.6},{"s":"THCP2-02","t":411,"T":37.5},{"s":"THCP2-02","t":414,"T":37.3},{"s":"THCP2-02","t":417,"T":37.3},{"s":"THCP2-02","t":420,"T":37.9},{"s":"THCP2-02","t":423,"T":38.6},{"s":"THCP2-02","t":427,"T":39.0},{"s":"THCP2-02","t":430,"T":39.6},{"s":"THCP2-02","t":433,"T":39.2},{"s":"THCP2-02","t":436,"T":38.6},{"s":"THCP2-02","t":439,"T":38.3},{"s":"THCP2-02","t":442,"T":38.0},{"s":"THCP2-02","t":446,"T":38.5},{"s":"THCP2-02","t":449,"T":39.0},{"s":"THCP2-02","t":452,"T":39.8},{"s":"THCP2-02","t":455,"T":40.6},{"s":"THCP2-02","t":458,"T":40.2},{"s":"THCP2-02","t":461,"T":39.6},{"s":"THCP2-02","t":465,"T":39.0},{"s":"THCP2-02","t":468,"T":38.6},{"s":"THCP2-02","t":471,"T":38.9},{"s":"THCP2-02","t":474,"T":39.4},{"s":"THCP2-02","t":478,"T":40.2},{"s":"THCP2-02","t":481,"T":41.3},{"s":"THCP2-02","t":484,"T":41.0},{"s":"THCP2-02","t":487,"T":40.6},{"s":"THCP2-02","t":490,"T":40.7},{"s":"THCP2-02","t":493,"T":40.6},{"s":"THCP2-02","t":497,"T":41.8},{"s":"THCP2-02","t":500,"T":43.3},{"s":"THCP2-02","t":503,"T":42.8},{"s":"THCP2-02","t":506,"T":42.0},{"s":"THCP2-02","t":509,"T":43.2},{"s":"THCP2-02","t":512,"T":44.7},{"s":"THCP2-02","t":515,"T":47.0},{"s":"THCP2-02","t":519,"T":50.0},{"s":"THCP2-02","t":522,"T":52.5},{"s":"THCP2-02","t":524,"T":54.7},{"s":"THCP2-02","t":526,"T":51.0},{"s":"THCP2-02","t":528,"T":48.0},{"s":"THCP2-02","t":531,"T":46.0},{"s":"THCP2-02","t":535,"T":44.7},{"s":"THCP2-02","t":538,"T":47.0},{"s":"THCP2-02","t":541,"T":49.4},{"s":"THCP2-02","t":543,"T":51.0},{"s":"THCP2-02","t":545,"T":52.7},{"s":"THCP2-02","t":548,"T":54.5},{"s":"THCP2-02","t":551,"T":56.8},{"s":"THCP2-02","t":554,"T":59.9},{"s":"THCP2-02","t":557,"T":60.5},{"s":"THCP2-02","t":560,"T":58.0},{"s":"THCP2-02","t":563,"T":56.2},{"s":"THCP2-02","t":566,"T":55.5},{"s":"THCP2-02","t":570,"T":55.8},{"s":"THCP2-02","t":573,"T":55.2},{"s":"THCP2-02","t":576,"T":54.8},{"s":"THCP2-02","t":579,"T":57.0},{"s":"THCP2-02","t":581,"T":63.0},{"s":"THCP2-02","t":583,"T":68.3},{"s":"THCP2-02","t":585,"T":64.0},{"s":"THCP2-02","t":587,"T":60.9},{"s":"THCP2-02","t":589,"T":59.5},{"s":"THCP2-02","t":591,"T":58.9},{"s":"THCP2-02","t":593,"T":60.5},{"s":"THCP2-02","t":595,"T":62.2},{"s":"THCP2-02","t":598,"T":60.5},{"s":"THCP2-02","t":600,"T":58.2},{"s":"THCP2-02","t":602,"T":59.8},{"s":"THCP2-02","t":605,"T":62.9},{"s":"THCP2-02","t":607,"T":64.5},{"s":"THCP2-02","t":609,"T":66.3},{"s":"THCP2-02","t":611,"T":65.5},{"s":"THCP2-02","t":613,"T":64.9},{"s":"THCP2-02","t":615,"T":65.8},{"s":"THCP2-02","t":618,"T":67.0},{"s":"THCP2-02","t":620,"T":66.5},{"s":"THCP2-02","t":623,"T":65.6},{"s":"THCP2-02","t":626,"T":64.0},{"s":"THCP2-02","t":628,"T":62.8},{"s":"THCP2-02","t":630,"T":61.6},
{"s":"THCP2-03","t":0,"T":20},{"s":"THCP2-03","t":80,"T":20},{"s":"THCP2-03","t":86,"T":20.4},{"s":"THCP2-03","t":100,"T":20.4},{"s":"THCP2-03","t":120,"T":20.4},{"s":"THCP2-03","t":144,"T":20.5},{"s":"THCP2-03","t":160,"T":20.5},{"s":"THCP2-03","t":175,"T":20.5},{"s":"THCP2-03","t":195,"T":20.5},{"s":"THCP2-03","t":207,"T":20.8},{"s":"THCP2-03","t":220,"T":20.7},{"s":"THCP2-03","t":239,"T":21.0},{"s":"THCP2-03","t":250,"T":21.1},{"s":"THCP2-03","t":258,"T":21.2},{"s":"THCP2-03","t":270,"T":21.4},{"s":"THCP2-03","t":284,"T":21.5},{"s":"THCP2-03","t":290,"T":21.6},{"s":"THCP2-03","t":296,"T":22.0},{"s":"THCP2-03","t":299,"T":22.5},{"s":"THCP2-03","t":302,"T":22.8},{"s":"THCP2-03","t":305,"T":22.6},{"s":"THCP2-03","t":309,"T":22.2},{"s":"THCP2-03","t":312,"T":21.8},{"s":"THCP2-03","t":315,"T":21.5},{"s":"THCP2-03","t":320,"T":21.8},{"s":"THCP2-03","t":325,"T":22.1},{"s":"THCP2-03","t":330,"T":22.3},{"s":"THCP2-03","t":334,"T":22.5},{"s":"THCP2-03","t":338,"T":22.3},{"s":"THCP2-03","t":342,"T":22.2},{"s":"THCP2-03","t":346,"T":22.6},{"s":"THCP2-03","t":350,"T":23.2},{"s":"THCP2-03","t":354,"T":23.0},{"s":"THCP2-03","t":358,"T":22.9},{"s":"THCP2-03","t":362,"T":23.2},{"s":"THCP2-03","t":366,"T":23.7},{"s":"THCP2-03","t":369,"T":24.2},{"s":"THCP2-03","t":372,"T":23.8},{"s":"THCP2-03","t":376,"T":23.6},{"s":"THCP2-03","t":379,"T":24.3},{"s":"THCP2-03","t":382,"T":25.2},{"s":"THCP2-03","t":385,"T":24.2},{"s":"THCP2-03","t":388,"T":23.2},{"s":"THCP2-03","t":391,"T":22.8},{"s":"THCP2-03","t":395,"T":22.5},{"s":"THCP2-03","t":399,"T":22.7},{"s":"THCP2-03","t":403,"T":22.9},{"s":"THCP2-03","t":407,"T":23.1},{"s":"THCP2-03","t":411,"T":23.5},{"s":"THCP2-03","t":414,"T":23.2},{"s":"THCP2-03","t":417,"T":22.9},{"s":"THCP2-03","t":421,"T":22.9},{"s":"THCP2-03","t":425,"T":22.7},{"s":"THCP2-03","t":430,"T":22.5},{"s":"THCP2-03","t":435,"T":23.0},{"s":"THCP2-03","t":439,"T":23.5},{"s":"THCP2-03","t":443,"T":23.0},{"s":"THCP2-03","t":447,"T":22.8},{"s":"THCP2-03","t":451,"T":23.0},{"s":"THCP2-03","t":455,"T":23.2},{"s":"THCP2-03","t":460,"T":22.9},{"s":"THCP2-03","t":465,"T":22.6},{"s":"THCP2-03","t":470,"T":22.9},{"s":"THCP2-03","t":474,"T":23.2},{"s":"THCP2-03","t":479,"T":23.0},{"s":"THCP2-03","t":484,"T":22.8},{"s":"THCP2-03","t":489,"T":23.0},{"s":"THCP2-03","t":493,"T":23.2},{"s":"THCP2-03","t":498,"T":23.0},{"s":"THCP2-03","t":503,"T":22.8},{"s":"THCP2-03","t":508,"T":23.0},{"s":"THCP2-03","t":512,"T":23.2},{"s":"THCP2-03","t":516,"T":23.5},{"s":"THCP2-03","t":519,"T":24.2},{"s":"THCP2-03","t":522,"T":24.9},{"s":"THCP2-03","t":525,"T":24.4},{"s":"THCP2-03","t":528,"T":23.9},{"s":"THCP2-03","t":532,"T":24.1},{"s":"THCP2-03","t":536,"T":24.4},{"s":"THCP2-03","t":540,"T":24.2},{"s":"THCP2-03","t":544,"T":24.2},{"s":"THCP2-03","t":548,"T":25.0},{"s":"THCP2-03","t":552,"T":26.2},{"s":"THCP2-03","t":555,"T":25.7},{"s":"THCP2-03","t":557,"T":25.2},{"s":"THCP2-03","t":560,"T":24.9},{"s":"THCP2-03","t":563,"T":24.7},{"s":"THCP2-03","t":566,"T":24.5},{"s":"THCP2-03","t":570,"T":24.9},{"s":"THCP2-03","t":574,"T":25.1},{"s":"THCP2-03","t":577,"T":25.3},{"s":"THCP2-03","t":579,"T":25.5},{"s":"THCP2-03","t":581,"T":28.5},{"s":"THCP2-03","t":583,"T":33.0},{"s":"THCP2-03","t":586,"T":32.2},{"s":"THCP2-03","t":590,"T":31.3},{"s":"THCP2-03","t":593,"T":31.7},{"s":"THCP2-03","t":596,"T":32.0},{"s":"THCP2-03","t":599,"T":33.5},{"s":"THCP2-03","t":601,"T":34.8},{"s":"THCP2-03","t":603,"T":35.7},{"s":"THCP2-03","t":605,"T":34.5},{"s":"THCP2-03","t":607,"T":32.5},{"s":"THCP2-03","t":609,"T":31.0},{"s":"THCP2-03","t":612,"T":33.5},{"s":"THCP2-03","t":615,"T":35.5},{"s":"THCP2-03","t":617,"T":36.2},{"s":"THCP2-03","t":619,"T":36.0},{"s":"THCP2-03","t":621,"T":33.0},{"s":"THCP2-03","t":623,"T":30.5},{"s":"THCP2-03","t":626,"T":32.5},{"s":"THCP2-03","t":628,"T":35.0},{"s":"THCP2-03","t":630,"T":37.0},
{"s":"THCP2-04","t":0,"T":20},{"s":"THCP2-04","t":135,"T":20},{"s":"THCP2-04","t":140,"T":20.3},{"s":"THCP2-04","t":147,"T":20.8},{"s":"THCP2-04","t":152,"T":21.0},{"s":"THCP2-04","t":156,"T":20.7},{"s":"THCP2-04","t":160,"T":20.5},{"s":"THCP2-04","t":165,"T":20.4},{"s":"THCP2-04","t":170,"T":20.3},{"s":"THCP2-04","t":176,"T":20.3},{"s":"THCP2-04","t":182,"T":20.4},{"s":"THCP2-04","t":188,"T":20.4},{"s":"THCP2-04","t":195,"T":20.5},{"s":"THCP2-04","t":200,"T":21.0},{"s":"THCP2-04","t":204,"T":21.5},{"s":"THCP2-04","t":209,"T":22.0},{"s":"THCP2-04","t":214,"T":22.2},{"s":"THCP2-04","t":220,"T":22.3},{"s":"THCP2-04","t":226,"T":22.4},{"s":"THCP2-04","t":233,"T":22.5},{"s":"THCP2-04","t":239,"T":22.6},{"s":"THCP2-04","t":245,"T":22.8},{"s":"THCP2-04","t":252,"T":23.0},{"s":"THCP2-04","t":258,"T":23.2},{"s":"THCP2-04","t":264,"T":22.9},{"s":"THCP2-04","t":270,"T":22.8},{"s":"THCP2-04","t":277,"T":23.0},{"s":"THCP2-04","t":281,"T":23.3},{"s":"THCP2-04","t":285,"T":22.9},{"s":"THCP2-04","t":290,"T":22.8},{"s":"THCP2-04","t":296,"T":23.1},{"s":"THCP2-04","t":302,"T":23.0},{"s":"THCP2-04","t":309,"T":23.2},{"s":"THCP2-04","t":315,"T":23.6},{"s":"THCP2-04","t":320,"T":23.9},{"s":"THCP2-04","t":325,"T":24.2},{"s":"THCP2-04","t":330,"T":24.6},{"s":"THCP2-04","t":334,"T":24.9},{"s":"THCP2-04","t":338,"T":24.6},{"s":"THCP2-04","t":342,"T":24.4},{"s":"THCP2-04","t":346,"T":24.8},{"s":"THCP2-04","t":350,"T":25.2},{"s":"THCP2-04","t":353,"T":25.7},{"s":"THCP2-04","t":357,"T":26.2},{"s":"THCP2-04","t":361,"T":25.8},{"s":"THCP2-04","t":365,"T":26.0},{"s":"THCP2-04","t":369,"T":26.5},{"s":"THCP2-04","t":373,"T":26.3},{"s":"THCP2-04","t":377,"T":25.7},{"s":"THCP2-04","t":382,"T":25.2},{"s":"THCP2-04","t":385,"T":25.8},{"s":"THCP2-04","t":388,"T":26.4},{"s":"THCP2-04","t":392,"T":27.2},{"s":"THCP2-04","t":396,"T":27.6},{"s":"THCP2-04","t":398,"T":27.9},{"s":"THCP2-04","t":402,"T":27.3},{"s":"THCP2-04","t":406,"T":26.8},{"s":"THCP2-04","t":411,"T":26.5},{"s":"THCP2-04","t":414,"T":27.2},{"s":"THCP2-04","t":417,"T":28.2},{"s":"THCP2-04","t":420,"T":27.8},{"s":"THCP2-04","t":424,"T":27.3},{"s":"THCP2-04","t":427,"T":27.5},{"s":"THCP2-04","t":430,"T":27.6},{"s":"THCP2-04","t":433,"T":27.0},{"s":"THCP2-04","t":436,"T":26.5},{"s":"THCP2-04","t":440,"T":27.0},{"s":"THCP2-04","t":444,"T":27.5},{"s":"THCP2-04","t":449,"T":27.9},{"s":"THCP2-04","t":452,"T":28.2},{"s":"THCP2-04","t":455,"T":28.4},{"s":"THCP2-04","t":458,"T":28.0},{"s":"THCP2-04","t":462,"T":27.3},{"s":"THCP2-04","t":465,"T":26.6},{"s":"THCP2-04","t":468,"T":26.2},{"s":"THCP2-04","t":472,"T":26.5},{"s":"THCP2-04","t":477,"T":26.8},{"s":"THCP2-04","t":482,"T":27.0},{"s":"THCP2-04","t":487,"T":26.9},{"s":"THCP2-04","t":491,"T":27.0},{"s":"THCP2-04","t":495,"T":27.1},{"s":"THCP2-04","t":499,"T":27.3},{"s":"THCP2-04","t":503,"T":27.6},{"s":"THCP2-04","t":507,"T":27.2},{"s":"THCP2-04","t":511,"T":26.8},{"s":"THCP2-04","t":515,"T":26.9},{"s":"THCP2-04","t":519,"T":26.5},{"s":"THCP2-04","t":522,"T":26.7},{"s":"THCP2-04","t":525,"T":26.3},{"s":"THCP2-04","t":528,"T":25.6},{"s":"THCP2-04","t":530,"T":25.2},{"s":"THCP2-04","t":532,"T":27.0},{"s":"THCP2-04","t":535,"T":29.3},{"s":"THCP2-04","t":537,"T":30.5},{"s":"THCP2-04","t":540,"T":31.3},{"s":"THCP2-04","t":542,"T":30.2},{"s":"THCP2-04","t":545,"T":29.3},{"s":"THCP2-04","t":548,"T":30.0},{"s":"THCP2-04","t":551,"T":31.0},{"s":"THCP2-04","t":555,"T":32.7},{"s":"THCP2-04","t":558,"T":32.2},{"s":"THCP2-04","t":561,"T":32.8},{"s":"THCP2-04","t":564,"T":33.5},{"s":"THCP2-04","t":566,"T":34.0},{"s":"THCP2-04","t":568,"T":35.5},{"s":"THCP2-04","t":570,"T":36.7},{"s":"THCP2-04","t":573,"T":36.2},{"s":"THCP2-04","t":576,"T":35.7},{"s":"THCP2-04","t":579,"T":35.0},{"s":"THCP2-04","t":583,"T":34.4},{"s":"THCP2-04","t":586,"T":34.7},{"s":"THCP2-04","t":590,"T":34.7},{"s":"THCP2-04","t":592,"T":33.0},{"s":"THCP2-04","t":594,"T":31.3},{"s":"THCP2-04","t":597,"T":31.6},{"s":"THCP2-04","t":600,"T":32.0},{"s":"THCP2-04","t":603,"T":35.0},{"s":"THCP2-04","t":605,"T":38.1},{"s":"THCP2-04","t":607,"T":36.5},{"s":"THCP2-04","t":610,"T":34.7},{"s":"THCP2-04","t":612,"T":33.0},{"s":"THCP2-04","t":615,"T":31.3},{"s":"THCP2-04","t":617,"T":32.2},{"s":"THCP2-04","t":620,"T":33.3},{"s":"THCP2-04","t":623,"T":34.7},{"s":"THCP2-04","t":626,"T":35.8},{"s":"THCP2-04","t":630,"T":37.0},
{"s":"THCP2-05","t":0,"T":20},{"s":"THCP2-05","t":60,"T":20},{"s":"THCP2-05","t":66,"T":20.2},{"s":"THCP2-05","t":71,"T":20.6},{"s":"THCP2-05","t":76,"T":21.0},{"s":"THCP2-05","t":80,"T":21.5},{"s":"THCP2-05","t":86,"T":22.4},{"s":"THCP2-05","t":93,"T":23.2},{"s":"THCP2-05","t":97,"T":23.6},{"s":"THCP2-05","t":102,"T":23.5},{"s":"THCP2-05","t":105,"T":24.0},{"s":"THCP2-05","t":109,"T":24.5},{"s":"THCP2-05","t":112,"T":24.2},{"s":"THCP2-05","t":115,"T":24.9},{"s":"THCP2-05","t":119,"T":25.3},{"s":"THCP2-05","t":122,"T":24.6},{"s":"THCP2-05","t":125,"T":25.6},{"s":"THCP2-05","t":128,"T":26.2},{"s":"THCP2-05","t":131,"T":24.6},{"s":"THCP2-05","t":134,"T":24.9},{"s":"THCP2-05","t":137,"T":25.5},{"s":"THCP2-05","t":140,"T":25.8},{"s":"THCP2-05","t":144,"T":27.3},{"s":"THCP2-05","t":147,"T":26.2},{"s":"THCP2-05","t":150,"T":24.5},{"s":"THCP2-05","t":153,"T":25.3},{"s":"THCP2-05","t":156,"T":26.1},{"s":"THCP2-05","t":158,"T":24.8},{"s":"THCP2-05","t":160,"T":23.9},{"s":"THCP2-05","t":163,"T":24.4},{"s":"THCP2-05","t":166,"T":24.6},{"s":"THCP2-05","t":170,"T":24.2},{"s":"THCP2-05","t":175,"T":23.8},{"s":"THCP2-05","t":180,"T":24.3},{"s":"THCP2-05","t":185,"T":24.1},{"s":"THCP2-05","t":190,"T":24.0},{"s":"THCP2-05","t":195,"T":23.8},{"s":"THCP2-05","t":198,"T":23.4},{"s":"THCP2-05","t":201,"T":23.2},{"s":"THCP2-05","t":205,"T":23.5},{"s":"THCP2-05","t":210,"T":23.1},{"s":"THCP2-05","t":214,"T":23.7},{"s":"THCP2-05","t":218,"T":24.5},{"s":"THCP2-05","t":223,"T":25.2},{"s":"THCP2-05","t":227,"T":24.6},{"s":"THCP2-05","t":231,"T":25.0},{"s":"THCP2-05","t":236,"T":25.9},{"s":"THCP2-05","t":240,"T":26.1},{"s":"THCP2-05","t":245,"T":26.5},{"s":"THCP2-05","t":250,"T":26.8},{"s":"THCP2-05","t":255,"T":27.1},{"s":"THCP2-05","t":259,"T":27.4},{"s":"THCP2-05","t":264,"T":27.6},{"s":"THCP2-05","t":268,"T":27.5},{"s":"THCP2-05","t":272,"T":27.3},{"s":"THCP2-05","t":276,"T":27.7},{"s":"THCP2-05","t":280,"T":27.8},{"s":"THCP2-05","t":284,"T":27.6},{"s":"THCP2-05","t":288,"T":27.0},{"s":"THCP2-05","t":292,"T":27.4},{"s":"THCP2-05","t":296,"T":28.6},{"s":"THCP2-05","t":300,"T":28.2},{"s":"THCP2-05","t":304,"T":27.9},{"s":"THCP2-05","t":309,"T":28.3},{"s":"THCP2-05","t":312,"T":29.1},{"s":"THCP2-05","t":315,"T":29.9},{"s":"THCP2-05","t":318,"T":30.5},{"s":"THCP2-05","t":322,"T":30.9},{"s":"THCP2-05","t":325,"T":29.6},{"s":"THCP2-05","t":328,"T":28.0},{"s":"THCP2-05","t":331,"T":29.8},{"s":"THCP2-05","t":334,"T":30.6},{"s":"THCP2-05","t":338,"T":31.2},{"s":"THCP2-05","t":342,"T":30.6},{"s":"THCP2-05","t":347,"T":30.3},{"s":"THCP2-05","t":350,"T":31.0},{"s":"THCP2-05","t":353,"T":31.9},{"s":"THCP2-05","t":357,"T":31.2},{"s":"THCP2-05","t":360,"T":30.2},{"s":"THCP2-05","t":363,"T":31.0},{"s":"THCP2-05","t":366,"T":31.8},{"s":"THCP2-05","t":370,"T":30.8},{"s":"THCP2-05","t":373,"T":29.8},{"s":"THCP2-05","t":376,"T":29.2},{"s":"THCP2-05","t":379,"T":31.0},{"s":"THCP2-05","t":382,"T":32.9},{"s":"THCP2-05","t":385,"T":32.2},{"s":"THCP2-05","t":388,"T":31.8},{"s":"THCP2-05","t":391,"T":33.0},{"s":"THCP2-05","t":395,"T":34.3},{"s":"THCP2-05","t":398,"T":33.0},{"s":"THCP2-05","t":401,"T":31.5},{"s":"THCP2-05","t":404,"T":32.5},{"s":"THCP2-05","t":407,"T":33.9},{"s":"THCP2-05","t":411,"T":34.3},{"s":"THCP2-05","t":414,"T":34.9},{"s":"THCP2-05","t":417,"T":33.8},{"s":"THCP2-05","t":420,"T":32.6},{"s":"THCP2-05","t":424,"T":33.2},{"s":"THCP2-05","t":427,"T":34.2},{"s":"THCP2-05","t":430,"T":34.6},{"s":"THCP2-05","t":433,"T":33.4},{"s":"THCP2-05","t":436,"T":32.0},{"s":"THCP2-05","t":439,"T":31.2},{"s":"THCP2-05","t":442,"T":30.4},{"s":"THCP2-05","t":446,"T":32.5},{"s":"THCP2-05","t":449,"T":33.2},{"s":"THCP2-05","t":452,"T":33.0},{"s":"THCP2-05","t":455,"T":33.6},{"s":"THCP2-05","t":458,"T":34.5},{"s":"THCP2-05","t":462,"T":35.3},{"s":"THCP2-05","t":465,"T":34.2},{"s":"THCP2-05","t":468,"T":32.8},{"s":"THCP2-05","t":471,"T":31.9},{"s":"THCP2-05","t":474,"T":31.2},{"s":"THCP2-05","t":477,"T":32.4},{"s":"THCP2-05","t":480,"T":33.3},{"s":"THCP2-05","t":484,"T":33.8},{"s":"THCP2-05","t":487,"T":34.2},{"s":"THCP2-05","t":490,"T":34.8},{"s":"THCP2-05","t":493,"T":35.9},{"s":"THCP2-05","t":496,"T":36.9},{"s":"THCP2-05","t":500,"T":37.9},{"s":"THCP2-05","t":503,"T":35.3},{"s":"THCP2-05","t":506,"T":33.3},{"s":"THCP2-05","t":509,"T":35.5},{"s":"THCP2-05","t":511,"T":38.6},{"s":"THCP2-05","t":513,"T":50.0},{"s":"THCP2-05","t":514,"T":59.4},{"s":"THCP2-05","t":516,"T":50.0},{"s":"THCP2-05","t":517,"T":46.0},{"s":"THCP2-05","t":519,"T":43.0},{"s":"THCP2-05","t":521,"T":41.3},{"s":"THCP2-05","t":523,"T":44.0},{"s":"THCP2-05","t":525,"T":46.7},{"s":"THCP2-05","t":528,"T":50.0},{"s":"THCP2-05","t":530,"T":52.7},{"s":"THCP2-05","t":532,"T":48.0},{"s":"THCP2-05","t":535,"T":44.0},{"s":"THCP2-05","t":537,"T":47.5},{"s":"THCP2-05","t":539,"T":50.7},{"s":"THCP2-05","t":541,"T":46.5},{"s":"THCP2-05","t":544,"T":42.6},{"s":"THCP2-05","t":546,"T":45.0},{"s":"THCP2-05","t":549,"T":47.3},{"s":"THCP2-05","t":552,"T":44.5},{"s":"THCP2-05","t":555,"T":46.0},{"s":"THCP2-05","t":557,"T":49.0},{"s":"THCP2-05","t":560,"T":51.0},{"s":"THCP2-05","t":563,"T":48.0},{"s":"THCP2-05","t":566,"T":45.5},{"s":"THCP2-05","t":568,"T":44.0},{"s":"THCP2-05","t":570,"T":42.6},{"s":"THCP2-05","t":572,"T":45.5},{"s":"THCP2-05","t":575,"T":48.7},{"s":"THCP2-05","t":578,"T":46.0},{"s":"THCP2-05","t":580,"T":44.5},{"s":"THCP2-05","t":583,"T":48.0},{"s":"THCP2-05","t":585,"T":50.7},{"s":"THCP2-05","t":588,"T":47.5},{"s":"THCP2-05","t":590,"T":45.3},{"s":"THCP2-05","t":593,"T":47.5},{"s":"THCP2-05","t":596,"T":51.0},{"s":"THCP2-05","t":598,"T":56.1},{"s":"THCP2-05","t":601,"T":55.5},{"s":"THCP2-05","t":603,"T":54.5},{"s":"THCP2-05","t":605,"T":56.2},{"s":"THCP2-05","t":608,"T":50.0},{"s":"THCP2-05","t":611,"T":44.8},{"s":"THCP2-05","t":613,"T":42.8},{"s":"THCP2-05","t":615,"T":46.5},{"s":"THCP2-05","t":617,"T":50.8},{"s":"THCP2-05","t":619,"T":53.0},{"s":"THCP2-05","t":621,"T":53.5},{"s":"THCP2-05","t":623,"T":50.0},{"s":"THCP2-05","t":625,"T":46.8},{"s":"THCP2-05","t":628,"T":45.0},{"s":"THCP2-05","t":630,"T":44.4}
]},
"bounds":"flush",
"spacing":202,
"hconcat":[
{"width":367,"height":298,
"title":{"text":"(a)","orient":"bottom","offset":34,"font":"Liberation Serif","fontSize":20,"fontWeight":"bold","color":"black","dx":-5},
"data":{"name":"co"},
"mark":{"type":"line","strokeWidth":1.2,"clip":true},
"encoding":{
"x":{"field":"t","type":"quantitative","scale":{"domain":[0,700],"nice":false},
"axis":{"title":"Time (s)","values":[0,50,100,150,200,250,300,350,400,450,500,550,600,650,700],"labelExpr":"datum.value % 100 == 0 ? datum.label : ''","tickSize":{"condition":{"test":"datum.value % 100 != 0","value":3},"value":5},"labelPadding":3,"titlePadding":11}},
"y":{"field":"v","type":"quantitative","scale":{"domain":[0,0.00025],"nice":false},
"axis":{"title":"CO concentration (mol/mol)","values":[0,0.000025,0.00005,0.000075,0.0001,0.000125,0.00015,0.000175,0.0002,0.000225,0.00025],"labelExpr":"datum.value == 0 ? '0.0' : (round(datum.value*1e5) % 5 != 0 ? '' : (round(datum.value*1e5) == 5 ? '5.0x10⁻⁵' : format(datum.value*1e4, '.1f') + 'x10⁻⁴'))","tickSize":{"condition":{"test":"round(datum.value*1e5) % 5 != 0","value":3},"value":5},"labelPadding":6,"titlePadding":4}},
"color":{"field":"s","type":"nominal","scale":{"domain":["CO 1-01","CO 1-02","CO 1-03","CO 2-01","CO 2-02","CO 2-03","CO 2-04","CO 2-05"],"range":["#333333","#ff4040","#3a78d8","#3cae6a","#b57ee6","#d4a21a","#1ed2dc","#7a4545"]},
"legend":{"orient":"none","legendX":333,"legendY":-37,"title":null,"labelFontSize":16,"symbolType":"M-2.05,0H2.05","symbolSize":324,"symbolOffset":9.5,"labelOffset":13,"rowPadding":3}}
}},
{"width":367,"height":298,
"title":{"text":"(b)","orient":"bottom","offset":40,"font":"Liberation Serif","fontSize":20,"fontWeight":"bold","color":"black","dx":-17},
"data":{"name":"temp"},
"mark":{"type":"line","strokeWidth":1.2,"clip":true},
"encoding":{
"x":{"field":"t","type":"quantitative","scale":{"domain":[0,700],"nice":false},
"axis":{"title":"Time (s)","values":[0,50,100,150,200,250,300,350,400,450,500,550,600,650,700],"labelExpr":"datum.value % 100 == 0 ? datum.label : ''","tickSize":{"condition":{"test":"datum.value % 100 != 0","value":3},"value":5},"labelPadding":4,"titlePadding":2}},
"y":{"field":"T","type":"quantitative","scale":{"domain":[15,75],"nice":false},
"axis":{"title":"Temperature (°C)","values":[15,17.5,20,22.5,25,27.5,30,32.5,35,37.5,40,42.5,45,47.5,50,52.5,55,57.5,60,62.5,65,67.5,70,72.5,75],"labelExpr":"datum.value % 5 == 0 ? datum.label : ''","tickSize":{"condition":{"test":"datum.value % 5 != 0","value":3},"value":5},"labelPadding":6,"titlePadding":15,"titleFontSize":15}},
"color":{"field":"s","type":"nominal","scale":{"domain":["THCP1-01","THCP1-02","THCP1-03","THCP1-04","THCP2-01","THCP2-02","THCP2-03","THCP2-04","THCP2-05"],"range":["#808080","#ff6666","#4a80dd","#40c080","#c084f0","#dba515","#20c8d0","#7a4848","#8f8a0a"]},
"legend":{"orient":"none","legendX":332,"legendY":-34,"title":null,"labelFontSize":15,"symbolType":"M-2.125,0H2.125","symbolSize":256,"symbolOffset":9,"labelOffset":13,"rowPadding":2,"padding":2}}
}}
]
}
